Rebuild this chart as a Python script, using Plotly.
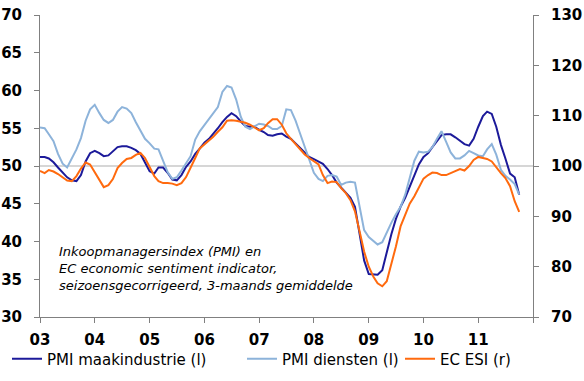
import pandas as pd
import plotly.graph_objects as go

months = pd.date_range("2003-01-01", periods=106, freq="MS")

pmi_manuf = [51.2, 51.2, 51.0, 50.5, 49.8, 49.2, 48.5, 48.1, 48.0, 48.8, 50.6, 51.7,
             52.0, 51.7, 51.3, 51.4, 51.9, 52.5, 52.6, 52.6, 52.4, 52.1, 51.6, 50.5,
             49.3, 49.0, 49.8, 49.8, 49.1, 48.2, 48.1, 48.8, 49.9, 50.6, 51.6, 52.3,
             53.1, 53.6, 54.2, 55.0, 55.8, 56.5, 57.0, 56.6, 55.9, 55.3, 55.2, 55.2,
             54.8, 54.5, 54.1, 54.0, 54.2, 54.3, 53.9, 53.6, 53.0, 52.4, 51.7, 51.2,
             50.9, 50.6, 50.3, 49.6, 48.8, 47.8, 47.1, 46.4, 45.8, 44.6, 41.0, 37.5,
             35.7, 35.6, 35.6, 36.2, 38.6, 41.0, 43.0, 44.6, 45.8, 47.2, 48.8, 50.2,
             51.2, 51.7, 52.5, 53.4, 54.1, 54.2, 54.2, 53.8, 53.3, 52.9, 52.7, 53.6,
             55.2, 56.6, 57.2, 56.9, 55.2, 52.8, 51.0, 49.0, 48.5, 46.2]

pmi_services = [55.1, 55.0, 54.2, 53.3, 51.6, 50.3, 49.8, 51.0, 52.2, 53.7, 56.0, 57.5,
                58.1, 57.0, 56.1, 55.7, 56.1, 57.2, 57.8, 57.6, 57.0, 55.8, 54.6, 53.6,
                53.0, 52.3, 52.2, 50.8, 49.2, 48.3, 48.5, 49.4, 50.3, 51.3, 53.5, 54.6,
                55.4, 56.2, 57.0, 57.8, 59.8, 60.6, 60.4, 58.8, 56.5, 55.2, 54.9, 55.3,
                55.6, 55.5, 55.3, 54.9, 54.9, 55.3, 57.5, 57.4, 56.0, 54.3, 52.5, 50.6,
                49.1, 48.3, 48.0, 48.7, 48.8, 48.6, 47.5, 47.8, 47.9, 47.8, 44.8, 41.5,
                40.6, 40.1, 39.6, 39.9, 41.2, 42.5, 43.6, 44.6, 46.2, 48.6, 50.7, 51.9,
                51.8, 51.9, 52.5, 53.6, 54.6, 53.2, 51.8, 51.0, 51.0, 51.4, 52.0, 51.7,
                51.4, 51.3, 52.2, 52.9, 51.5, 49.5, 48.7, 48.2, 47.6, 46.2]

ec_esi = [99.0, 98.6, 99.2, 98.9, 98.4, 97.8, 97.1, 97.0, 98.0, 99.5, 100.7, 100.3,
          98.8, 97.2, 95.8, 96.2, 97.4, 99.6, 100.6, 101.4, 101.6, 102.2, 102.6, 101.6,
          99.8, 98.0, 97.0, 96.6, 96.6, 96.5, 96.2, 96.6, 97.8, 99.8, 101.6, 103.5,
          104.3, 105.0, 105.8, 106.8, 107.7, 109.0, 109.1, 109.0, 108.8, 108.6, 108.2, 107.6,
          107.1, 107.5, 108.5, 109.3, 109.3, 108.2, 106.5, 105.4, 104.3, 103.3, 102.3, 101.6,
          101.0, 100.3, 98.2, 96.6, 96.9, 96.8, 95.6, 94.6, 93.2, 91.0, 87.0, 83.0,
          80.0, 78.0, 76.7, 76.1, 77.1, 80.5, 84.0, 88.0, 90.3, 92.5, 94.0, 95.6,
          97.5, 98.2, 98.7, 98.6, 98.2, 98.2, 98.6, 99.1, 99.4, 99.1, 100.0, 101.2,
          101.8, 101.6, 101.4, 100.9, 99.7, 98.6, 97.6, 96.0, 93.0, 90.9]

year_ticks = pd.date_range("2003-01-01", "2012-01-01", freq="YS")
year_labels = ["03", "04", "05", "06", "07", "08", "09", "10", "11", ""]

note_lines = ["Inkoopmanagersindex (PMI) en",
              "EC economic sentiment indicator,",
              "seizoensgecorrigeerd, 3-maands gemiddelde"]

fig = go.Figure()
fig.add_trace(go.Scatter(x=months, y=pmi_manuf, name="PMI maakindustrie (l)",
                         mode="lines", line=dict(color="#1c1a9a", width=2),
                         legend="legend"))
fig.add_trace(go.Scatter(x=months, y=pmi_services, name="PMI diensten (l)",
                         mode="lines", line=dict(color="#8db3da", width=2),
                         legend="legend2"))
fig.add_trace(go.Scatter(x=months, y=ec_esi, name="EC ESI (r)", yaxis="y2",
                         mode="lines", line=dict(color="#ff6a0e", width=2),
                         legend="legend3"))

fig.add_shape(type="line", xref="paper", x0=0, x1=1, yref="y", y0=50, y1=50,
              line=dict(color="#c8c8c8", width=1.5), layer="below")

fig.add_annotation(xref="paper", yref="paper", x=0.034, y=0.159, xanchor="left",
                   yanchor="middle", align="left", showarrow=False,
                   text="<br>".join(note_lines),
                   font=dict(family="DejaVu Sans", size=13, color="#000000", style="italic"))

tick_font = dict(family="DejaVu Sans", size=15, color="#000000", weight="bold")
leg_font = dict(family="DejaVu Sans", size=15, color="#000000")


def leg(xpx):
    return dict(xref="container", yref="container", x=xpx / 584, y=1 - 359 / 381,
                xanchor="left", yanchor="middle", orientation="h", font=leg_font,
                itemwidth=30, bgcolor="rgba(0,0,0,0)", borderwidth=0)


fig.update_layout(
    width=584, height=381,
    margin=dict(l=40, r=51, t=15, b=64, autoexpand=False),
    paper_bgcolor="white", plot_bgcolor="white",
    showlegend=True,
    legend=leg(7), legend2=leg(242), legend3=leg(400),
    xaxis=dict(range=[year_ticks[0], year_ticks[-1]], tickmode="array",
               tickvals=list(year_ticks), ticktext=year_labels, automargin=False,
               showgrid=False, zeroline=False, showline=True, linecolor="#808080",
               linewidth=1, ticks="outside", ticklen=5, tickcolor="#808080",
               ticklabelstandoff=4, tickfont=tick_font),
    yaxis=dict(range=[30, 70], dtick=5, showgrid=False, zeroline=False, automargin=False,
               showline=True, linecolor="#808080", linewidth=1, ticks="outside",
               ticklen=5, tickcolor="#808080", ticklabelstandoff=9, tickfont=tick_font),
    yaxis2=dict(range=[70, 130], dtick=10, overlaying="y", side="right", automargin=False,
                showgrid=False, zeroline=False, showline=True, linecolor="#808080",
                linewidth=1, ticks="outside", ticklen=5, tickcolor="#808080",
                ticklabelstandoff=9, tickfont=tick_font),
)

fig.write_html("out.html", config={"displayModeBar": False},
               post_script="document.body.style.margin='0';document.body.style.overflow='hidden';")
